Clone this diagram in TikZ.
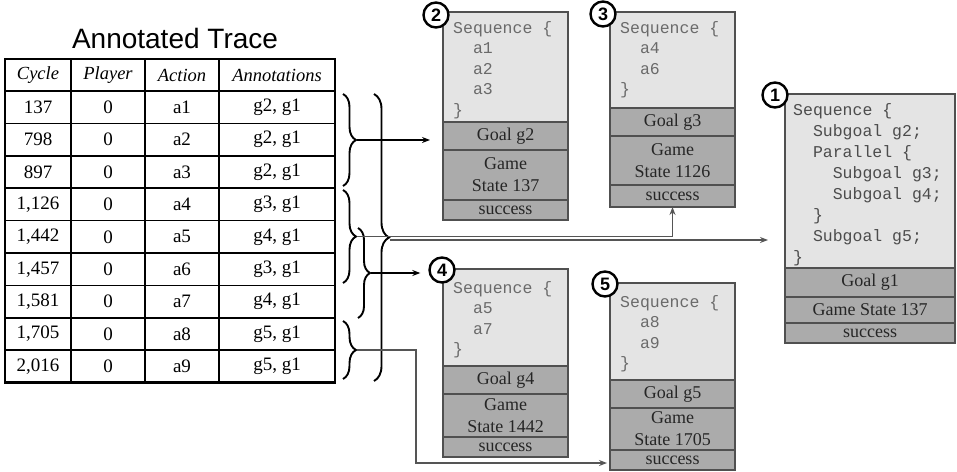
\documentclass[tikz,border=0pt]{standalone}
\usepackage{fontspec}
\setmainfont{Liberation Serif}
\setmonofont{Liberation Mono}
\newfontfamily\titlefont{Liberation Sans}
\usetikzlibrary{arrows.meta,decorations.pathreplacing}

\definecolor{codefill}{HTML}{E4E4E4}
\definecolor{lowfill}{HTML}{ABABAB}
\definecolor{boxline}{HTML}{505050}
\definecolor{codegray}{HTML}{6A6A6A}
\definecolor{codedark}{HTML}{4C4C4C}
\definecolor{linkgray}{HTML}{555555}

\newcommand\ind{\phantom{xx}}

\tikzset{
  codearea/.style={draw=boxline, fill=codefill, line width=1.3pt, anchor=north west, outer sep=0pt, inner sep=0pt},
  lowarea/.style={draw=boxline, fill=lowfill, line width=1.3pt, anchor=north west, outer sep=0pt, inner sep=0pt,
    align=center, text=black!85, font=\fontsize{18}{22}\selectfont},
  codetext/.style={anchor=north west, inner sep=0pt, align=left, text=codegray,
    font=\ttfamily\fontsize{16.5}{20.5}\selectfont},
  numdisc/.style={circle, draw=black, line width=2.4pt, fill=white, minimum size=25pt, inner sep=0pt,
    font=\titlefont\bfseries\fontsize{18}{18}\selectfont},
  cell/.style={inner sep=0pt, font=\fontsize{19}{19}\selectfont},
  headcell/.style={inner sep=0pt, font=\itshape\fontsize{18.5}{18.5}\selectfont},
  bracket/.style={decorate, line width=1.9pt, decoration={brace, amplitude=#1}},
  link/.style={line width=1.3pt, -{Stealth[length=8pt,width=6pt]}},
}

\begin{document}
\begin{tikzpicture}[x=1pt, y=-1pt]
\useasboundingbox (0,0) rectangle (957,471);

% ---------- trace table ----------
\node[font=\titlefont\fontsize{28}{28}\selectfont, inner sep=0pt] (title) at (175,38) {Annotated Trace};

\foreach \y in {91,123.4,155.8,188.2,220.6,253,285.4,317.8,350.2}
  \draw[line width=1.5pt] (5,\y) -- (335,\y);
\foreach \x in {71,145,219}
  \draw[line width=1.5pt] (\x,59) -- (\x,382.6);
\draw[line width=2.6pt] (5,59) rectangle (335,382.6);

\node[headcell] (h1) at (38,75) {Cycle};
\node[headcell] (h2) at (108,75) {Player};
\node[headcell] (h3) at (182,75) {Action};
\node[headcell] (h4) at (277,75) {Annotations};

\foreach \c/\a/\g [count=\i] in {137/a1/{g2, g1}, 798/a2/{g2, g1}, 897/a3/{g2, g1},
    {1,126}/a4/{g3, g1}, {1,442}/a5/{g4, g1}, {1,457}/a6/{g3, g1},
    {1,581}/a7/{g4, g1}, {1,705}/a8/{g5, g1}, {2,016}/a9/{g5, g1}} {
  \pgfmathsetmacro\yy{91+32.4*(\i-0.5)}
  \node[cell] (cy\i) at (38,\yy) {\c};
  \node[cell] (pl\i) at (108,\yy) {0};
  \node[cell] (ac\i) at (182,\yy) {\a};
  \node[cell] (an\i) at (277,\yy) {\g};
}

% ---------- braces grouping the rows ----------
\draw[bracket=13pt] (343,94) -- (343,186);
\draw[bracket=13pt] (343,190) -- (343,283);
\draw[bracket=12pt] (358,228) -- (358,318);
\draw[bracket=13pt] (343,321) -- (343,379);
\draw[bracket=15pt] (374,94) -- (374,381);
\coordinate (g2tip) at (357,140);
\coordinate (g3tip) at (357,236.5);
\coordinate (g4tip) at (371,273);
\coordinate (g5tip) at (357,350);
\coordinate (g1tip) at (390,240);
\coordinate (g5bend) at (416,350);

% ---------- goal box 2 ----------
\node[codearea, minimum width=125pt, minimum height=110pt] (b2code) at (443,12) {};
\node[lowarea, minimum width=125pt, minimum height=28pt] (b2goal) at (b2code.south west) {Goal g2};
\node[lowarea, minimum width=125pt, minimum height=50pt] (b2state) at (b2goal.south west) {Game\\State 137};
\node[lowarea, minimum width=125pt, minimum height=20pt] (b2done) at (b2state.south west) {success};
\node[codetext] (b2txt) at ([shift={(10,9)}]b2code.north west) {Sequence \{\\\ind a1\\\ind a2\\\ind a3\\\}};
\node[numdisc] (n2) at (436,15) {2};

% ---------- goal box 3 ----------
\node[codearea, minimum width=125pt, minimum height=96pt] (b3code) at (610,12) {};
\node[lowarea, minimum width=125pt, minimum height=28pt] (b3goal) at (b3code.south west) {Goal g3};
\node[lowarea, minimum width=125pt, minimum height=49pt] (b3state) at (b3goal.south west) {Game\\State 1126};
\node[lowarea, minimum width=125pt, minimum height=22pt] (b3done) at (b3state.south west) {success};
\node[codetext] (b3txt) at ([shift={(10,9)}]b3code.north west) {Sequence \{\\\ind a4\\\ind a6\\\}};
\node[numdisc] (n3) at (603,14) {3};

% ---------- goal box 1 ----------
\node[codearea, minimum width=170pt, minimum height=174pt] (b1code) at (785,94) {};
\node[lowarea, minimum width=170pt, minimum height=29pt] (b1goal) at (b1code.south west) {Goal g1};
\node[lowarea, minimum width=170pt, minimum height=26pt] (b1state) at (b1goal.south west) {Game State 137};
\node[lowarea, minimum width=170pt, minimum height=20pt] (b1done) at (b1state.south west) {success};
\node[codetext, text=codedark, font=\ttfamily\fontsize{16.5}{21}\selectfont] (b1txt)
  at ([shift={(8,9)}]b1code.north west)
  {Sequence \{\\\ind Subgoal g2;\\\ind Parallel \{\\\ind\ind Subgoal g3;\\\ind\ind Subgoal g4;\\\ind \}\\\ind Subgoal g5;\\\}};
\node[numdisc] (n1) at (775,95) {1};

% ---------- goal box 4 ----------
\node[codearea, minimum width=125pt, minimum height=97pt] (b4code) at (443,269) {};
\node[lowarea, minimum width=125pt, minimum height=28pt] (b4goal) at (b4code.south west) {Goal g4};
\node[lowarea, minimum width=125pt, minimum height=43pt] (b4state) at (b4goal.south west) {Game\\State 1442};
\node[lowarea, minimum width=125pt, minimum height=20pt] (b4done) at (b4state.south west) {success};
\node[codetext] (b4txt) at ([shift={(10,12)}]b4code.north west) {Sequence \{\\\ind a5\\\ind a7\\\}};
\node[numdisc] (n4) at (442,270) {4};

% ---------- goal box 5 ----------
\node[codearea, minimum width=125pt, minimum height=97pt] (b5code) at (610,283) {};
\node[lowarea, minimum width=125pt, minimum height=28pt] (b5goal) at (b5code.south west) {Goal g5};
\node[lowarea, minimum width=125pt, minimum height=42pt] (b5state) at (b5goal.south west) {Game\\State 1705};
\node[lowarea, minimum width=125pt, minimum height=20pt] (b5done) at (b5state.south west) {success};
\node[codetext] (b5txt) at ([shift={(10,12)}]b5code.north west) {Sequence \{\\\ind a8\\\ind a9\\\}};
\node[numdisc] (n5) at (605,284) {5};

% ---------- connectors from braces to goals ----------
\draw[link] (g2tip) -- ([xshift=-13pt]b2goal.west |- g2tip);
\draw[link] (g4tip) -- ([xshift=-8pt]n4.west |- g4tip);
\draw[link, draw=linkgray] (g3tip) -| (b3done.south);
\draw[link, draw=linkgray] (g1tip) -- ([xshift=-17pt]b1code.west |- g1tip);
\draw[link, draw=linkgray] (g5tip) -- (g5bend) |- ([xshift=-3pt, yshift=-3pt]b5done.west);
\end{tikzpicture}
\end{document}
